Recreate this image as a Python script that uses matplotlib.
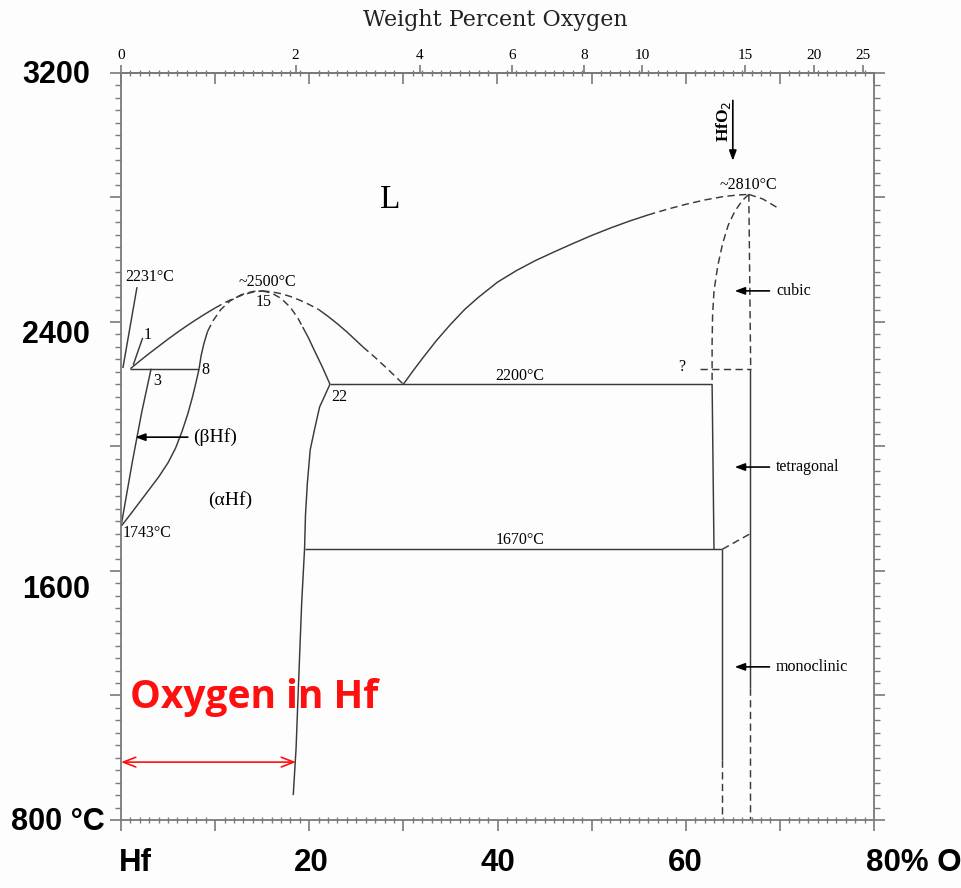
import numpy as np
import matplotlib
matplotlib.use("Agg")
import matplotlib.pyplot as plt
from matplotlib.transforms import blended_transform_factory

# Hf-O phase diagram, temperature (deg C) vs atomic percent oxygen

# --- phase boundaries: (at.% O, T) ---
# liquidus, Hf side up to the alpha-Hf maximum
liq_hf_x = [1, 2, 3, 4, 5, 6, 7, 8, 9, 10]
liq_hf_t = [2250, 2275, 2299, 2322, 2345, 2367, 2388, 2408, 2427, 2445]
liq_hf_dash_x = [10, 11, 12, 13, 14, 15]
liq_hf_dash_t = [2445, 2462, 2476, 2488, 2496, 2500]

# alpha-Hf solidus, low-oxygen side
sol_a_x = [8.3, 8.5, 8.8, 9.2]
sol_a_t = [2250, 2290, 2330, 2370]
sol_a_dash_x = [9.2, 9.8, 10.6, 11.6, 12.8, 14.0, 15.0]
sol_a_dash_t = [2370, 2405, 2440, 2468, 2488, 2498, 2500]

# beta / beta+alpha boundary
beta_x = [0.0, 1.2, 2.2, 3.2]
beta_t = [1743, 1950, 2110, 2250]

# alpha / alpha+beta boundary
ab_x = [0, 1, 2, 3, 4, 5, 5.8, 6.5, 7.1, 7.6, 8.0, 8.3]
ab_t = [1743, 1782, 1822, 1862, 1902, 1948, 1995, 2050, 2105, 2160, 2210, 2250]

# alpha-Hf high-oxygen boundary
sol_b_dash_x = [15, 16, 17, 18, 18.8, 19.3]
sol_b_dash_t = [2500, 2493, 2476, 2447, 2412, 2384]
sol_b_x = [19.3, 19.9, 20.6, 21.4, 22.2, 21.6, 21.1, 20.6, 20.1, 19.8, 19.6, 19.5,
           19.2, 19.0, 18.8, 18.6, 18.3]
sol_b_t = [2384, 2350, 2305, 2255, 2200, 2160, 2127, 2060, 1989, 1883, 1780, 1670,
           1500, 1346, 1190, 1030, 880]

# liquidus from the alpha-Hf maximum down to the eutectic
liq_m1_x = [15, 16, 17, 18, 19, 20, 21]
liq_m1_t = [2500, 2497, 2491, 2482, 2470, 2456, 2440]
liq_m2_x = [21, 22, 23, 24, 25, 25.7]
liq_m2_t = [2440, 2418, 2394, 2368, 2340, 2320]
liq_m3_x = [25.7, 27, 28.5, 30]
liq_m3_t = [2320, 2286, 2244, 2200]

# liquidus from the eutectic up to the HfO2 melting point
liq_ox_x = [30, 31, 32, 33.5, 35, 36.5, 38, 40, 42, 44, 46, 48, 50, 52, 54, 56]
liq_ox_t = [2200, 2242, 2282, 2340, 2392, 2440, 2480, 2528, 2565, 2597, 2625, 2652,
            2678, 2702, 2724, 2744]
liq_ox_dash_x = [56, 58, 60, 62, 64, 65.5, 66.7]
liq_ox_dash_t = [2744, 2762, 2778, 2792, 2803, 2808, 2810]
liq_far_x = [66.7, 68.2, 69.7]
liq_far_t = [2810, 2795, 2768]

# cubic HfO2 field
cub_left_x = [66.7, 66.0, 65.2, 64.5, 63.9, 63.4, 63.0, 62.85, 62.8, 62.8]
cub_left_t = [2810, 2790, 2755, 2710, 2650, 2580, 2500, 2420, 2330, 2200]
cub_right_x = [66.7, 66.9]
cub_right_t = [2810, 2250]
cub_low_x = [61.5, 66.9]
cub_low_t = [2250, 2250]

# tetragonal / monoclinic HfO2
tet_left_x = [62.8, 63.0]
tet_left_t = [2200, 1670]
mono_left_x = [63.9, 63.9]
mono_left_t = [1670, 993]
mono_left_dash_t = [993, 800]
oxide_x = [66.8, 66.8]
oxide_t = [2250, 1224]
oxide_dash_t = [1224, 800]
tm_x = [63.9, 66.8]
tm_t = [1670, 1719]

# invariant lines
peritectic_x = [1.0, 8.3]
peritectic_t = 2250
eutectic_x = [22.2, 62.8]
eutectic_t = 2200
eutectoid_x = [19.5, 63.9]
eutectoid_t = 1670

# oxygen solubility in Hf, shown by the red arrow
sol_limit_x = 18.6
sol_limit_t = 986

# top axis (weight percent) tick labels
wt_ticks = [0, 2, 4, 6, 8, 10, 15, 20, 25]

M_O, M_HF = 16.0, 178.49


def at2wt(a):
    a = np.clip(np.asarray(a, float), 0, 99.9)
    return 100 * M_O * a / (M_O * a + M_HF * (100 - a))


def wt2at(w):
    w = np.clip(np.asarray(w, float), 0, 99.9)
    return 100 * (w / M_O) / (w / M_O + (100 - w) / M_HF)


plt.rcParams['font.family'] = ['Liberation Serif', 'DejaVu Serif']
LC = '#3a3a3a'
FC = '#7a7a7a'
DASH = (0, (5, 3))

fig = plt.figure(figsize=(9.62, 8.88), dpi=100, facecolor='#fcfdfc')
ax = fig.add_axes([121 / 962, 68 / 888, 753 / 962, 747 / 888])
ax.set_facecolor('#fcfdfc')
ax.set_xlim(0, 80)
ax.set_ylim(800, 3200)


def solid(x, t):
    ax.plot(x, t, color=LC, lw=1.05, solid_capstyle='butt', solid_joinstyle='round')


def dashed(x, t):
    ax.plot(x, t, color=LC, lw=1.05, linestyle=DASH)


solid(liq_hf_x, liq_hf_t)
dashed(liq_hf_dash_x, liq_hf_dash_t)
solid(sol_a_x, sol_a_t)
dashed(sol_a_dash_x, sol_a_dash_t)
solid(beta_x, beta_t)
solid(ab_x, ab_t)
dashed(sol_b_dash_x, sol_b_dash_t)
solid(sol_b_x, sol_b_t)
dashed(liq_m1_x, liq_m1_t)
solid(liq_m2_x, liq_m2_t)
dashed(liq_m3_x, liq_m3_t)
solid(liq_ox_x, liq_ox_t)
dashed(liq_ox_dash_x, liq_ox_dash_t)
dashed(liq_far_x, liq_far_t)
dashed(cub_left_x, cub_left_t)
dashed(cub_right_x, cub_right_t)
dashed(cub_low_x, cub_low_t)
solid(tet_left_x, tet_left_t)
solid(mono_left_x, mono_left_t)
dashed(mono_left_x, mono_left_dash_t)
solid(oxide_x, oxide_t)
dashed(oxide_x, oxide_dash_t)
dashed(tm_x, tm_t)
solid(peritectic_x, [peritectic_t] * 2)
solid(eutectic_x, [eutectic_t] * 2)
solid(eutectoid_x, [eutectoid_t] * 2)

# leader lines for the melting point and liquid composition
solid([1.7, 0.2], [2512, 2252])
solid([2.3, 1.3], [2349, 2262])

# --- labels inside the diagram ---
fs = 11.5
ax.text(0.4, 2545, '2231°C', fontsize=fs, va='center')
ax.text(2.4, 2358, '1', fontsize=fs, va='center')
ax.text(3.4, 2212, '3', fontsize=fs, va='center')
ax.text(8.5, 2246, '8', fontsize=fs, va='center')
ax.text(15.6, 2527, '~2500°C', fontsize=fs, ha='center', va='center')
ax.text(15.2, 2464, '15', fontsize=fs, ha='center', va='center')
ax.text(22.3, 2160, '22', fontsize=fs, va='center')
ax.text(0.2, 1722, '1743°C', fontsize=fs, va='center')
ax.text(42.4, 2228, '2200°C', fontsize=fs, ha='center', va='center')
ax.text(42.4, 1698, '1670°C', fontsize=fs, ha='center', va='center')
ax.text(59.6, 2254, '?', fontsize=fs, ha='center', va='center')
ax.text(66.6, 2839, '~2810°C', fontsize=fs, ha='center', va='center')
ax.text(28.6, 2792, 'L', fontsize=24, ha='center', va='center')
ax.text(7.7, 2030, '(βHf)', fontsize=14, va='center')
ax.text(11.6, 1828, '(αHf)', fontsize=14, ha='center', va='center')

arrow = dict(arrowstyle='-|>,head_length=0.6,head_width=0.22', color='black', lw=1.2,
             shrinkA=0, shrinkB=0)
ax.annotate('', xy=(1.5, 2030), xytext=(7.1, 2030), arrowprops=arrow)
for name, t in [('cubic', 2500), ('tetragonal', 1934), ('monoclinic', 1292)]:
    ax.annotate('', xy=(65.2, t), xytext=(68.9, t), arrowprops=arrow)
    ax.text(69.6, t, name, fontsize=fs, va='center')

ax.text(64.0, 3045, 'HfO$_2$', fontsize=12.5, rotation=90, ha='center', va='center',
        fontweight='bold')
ax.annotate('', xy=(65.0, 2918), xytext=(65.0, 3112), arrowprops=arrow)

# oxygen solubility in alpha-Hf
ax.annotate('', xy=(0, sol_limit_t), xytext=(sol_limit_x, sol_limit_t),
            arrowprops=dict(arrowstyle='<->,head_length=0.9,head_width=0.35',
                            color='#ff1010', lw=1.2, shrinkA=0, shrinkB=0))
ax.text(1.0, 1195, 'Oxygen in Hf', fontsize=28, color='#ff1010', fontweight='bold',
        family=['Open Sans', 'DejaVu Sans'], va='center')

# --- axes and ticks ---
for sp in ax.spines.values():
    sp.set_color(FC)
    sp.set_linewidth(1.3)

ax.set_xticks(np.arange(0, 81, 10))
ax.set_xticks(np.arange(0, 81, 1), minor=True)
ax.set_yticks(np.arange(800, 3201, 400))
ax.set_yticks(np.arange(800, 3201, 40), minor=True)
ax.tick_params(axis='x', which='major', direction='out', length=8, width=1.2,
               color=FC, labelbottom=False)
ax.tick_params(axis='x', which='minor', direction='inout', length=4, width=1.0, color=FC)
ax.tick_params(axis='y', which='major', direction='out', length=8, width=1.2,
               color=FC, left=True, right=True, labelleft=False)
ax.tick_params(axis='y', which='minor', direction='out', length=4, width=1.0,
               color=FC, left=True, right=True)

top_at = ax.secondary_xaxis('top')
top_at.set_xticks(np.arange(0, 81, 10))
top_at.set_xticks(np.arange(0, 81, 1), minor=True)
top_at.tick_params(which='major', direction='in', length=8, width=1.2, color=FC,
                   labeltop=False)
top_at.tick_params(which='minor', direction='inout', length=4, width=1.0, color=FC)
top_at.spines['top'].set_color(FC)
top_at.spines['top'].set_linewidth(1.3)

top_wt = ax.secondary_xaxis('top', functions=(at2wt, wt2at))
top_wt.set_xticks(wt_ticks)
top_wt.set_xticklabels([str(w) for w in wt_ticks], fontsize=11)
top_wt.xaxis.set_minor_locator(matplotlib.ticker.NullLocator())
top_wt.tick_params(which='major', direction='out', length=6, width=1.2, color=FC, pad=2)
top_wt.spines['top'].set_color(FC)
top_wt.spines['top'].set_linewidth(1.3)
fig.text(495 / 962, 1 - 20 / 888, 'Weight Percent Oxygen', fontsize=16,
         family='DejaVu Serif', ha='center', va='center', color='#222222')

# large temperature and composition labels
bold = dict(family=['Liberation Sans', 'DejaVu Sans'], fontweight='bold', color='black')
ytr = blended_transform_factory(ax.transAxes, ax.transData)
for lab, t, xa in [('3200', 3194, -0.041), ('2400', 2358, -0.041),
                   ('1600', 1539, -0.041), ('800 °C', 794, -0.021)]:
    ax.text(xa, t, lab, transform=ytr, fontsize=22, ha='right', va='center', **bold)

xtr = blended_transform_factory(ax.transData, ax.transAxes)
for lab, x, ha in [('Hf', 1.5, 'center'), ('20', 20.2, 'center'), ('40', 40.0, 'center'),
                   ('60', 59.9, 'center'), ('80% O', 79.1, 'left')]:
    ax.text(x, -0.057, lab, transform=xtr, fontsize=22.5, ha=ha, va='center', **bold)

fig.savefig('out.png', dpi=100, facecolor=fig.get_facecolor())
